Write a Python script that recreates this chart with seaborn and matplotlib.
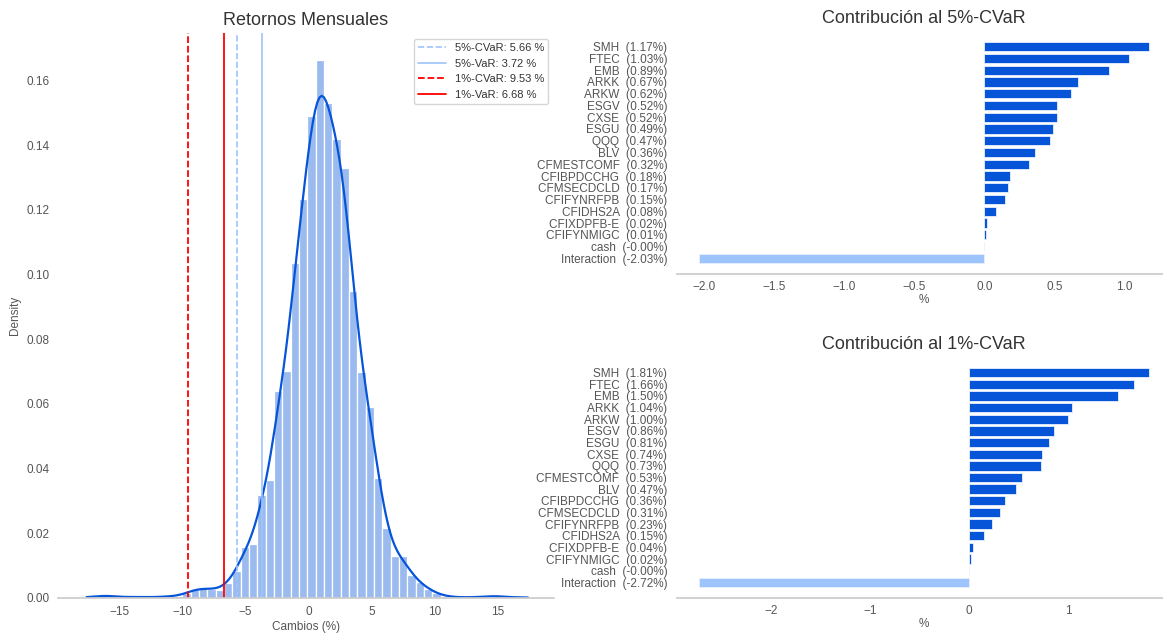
import numpy as np
import pandas as pd
import matplotlib
matplotlib.use("Agg")
import matplotlib.pyplot as plt
import seaborn as sns

# histogram of monthly returns (density per bin)
bin_start = -17.92
bin_width = 0.66
hist_density = [0.0004, 0.0003, 0.0009, 0.0006, 0.0003, 0.0003, 0.0003, 0.0003, 0.0002,
                0.0004, 0.0005, 0.0006, 0.0015, 0.0028, 0.0030, 0.0028, 0.0026, 0.0045,
                0.0082, 0.0158, 0.0168, 0.0318, 0.0365, 0.0640, 0.0702, 0.1036, 0.1234,
                0.1490, 0.1664, 0.1530, 0.1420, 0.1330, 0.0950, 0.0700, 0.0590, 0.0372,
                0.0215, 0.0130, 0.0130, 0.0071, 0.0048, 0.0029, 0.0014, 0.0006, 0.0003,
                0.0002, 0.0002, 0.0003, 0.0004, 0.0008, 0.0004, 0.0002, 0.0002, 0.0002]

# risk levels (%)
cvar5 = 5.66
var5 = 3.72
cvar1 = 9.53
var1 = 6.68

# contributions to 5%-CVaR
names5 = ["SMH", "FTEC", "EMB", "ARKK", "ARKW", "ESGV", "CXSE", "ESGU", "QQQ", "BLV",
          "CFMESTCOMF", "CFIBPDCCHG", "CFMSECDCLD", "CFIFYNRFPB", "CFIDHS2A",
          "CFIXDPFB-E", "CFIFYNMIGC", "cash", "Interaction"]
contrib5 = [1.17, 1.03, 0.89, 0.67, 0.62, 0.52, 0.52, 0.49, 0.47, 0.36,
            0.32, 0.18, 0.17, 0.15, 0.08, 0.02, 0.01, -0.0, -2.03]

# contributions to 1%-CVaR
names1 = ["SMH", "FTEC", "EMB", "ARKK", "ARKW", "ESGV", "ESGU", "CXSE", "QQQ",
          "CFMESTCOMF", "BLV", "CFIBPDCCHG", "CFMSECDCLD", "CFIFYNRFPB", "CFIDHS2A",
          "CFIXDPFB-E", "CFIFYNMIGC", "cash", "Interaction"]
contrib1 = [1.81, 1.66, 1.50, 1.04, 1.00, 0.86, 0.81, 0.74, 0.73,
            0.53, 0.47, 0.36, 0.31, 0.23, 0.15, 0.04, 0.02, -0.0, -2.72]

blue = "#0655d8"
light = "#9ec4fd"

sns.set_theme(style="white")
plt.rcParams["font.family"] = ["Liberation Sans", "DejaVu Sans"]
plt.rcParams["text.color"] = "#333333"
plt.rcParams["axes.labelcolor"] = "#555555"
plt.rcParams["xtick.color"] = "#555555"
plt.rcParams["ytick.color"] = "#555555"

W, H = 1163, 634
fig = plt.figure(figsize=(W / 100, H / 100), dpi=100)

def box(x0, y0, x1, y1):
    return [x0 / W, 1 - y1 / H, (x1 - x0) / W, (y1 - y0) / H]

# ---- left: histogram + kde ----
ax = fig.add_axes(box(58, 33, 554, 598))
edges = bin_start + bin_width * np.arange(len(hist_density) + 1)
hist_df = pd.DataFrame({"ret": edges[:-1] + bin_width / 2, "dens": hist_density})
sns.histplot(data=hist_df, x="ret", weights="dens", bins=list(edges), stat="count", kde=True,
             kde_kws={"bw_adjust": 0.36}, color=blue, alpha=0.4, edgecolor="white",
             linewidth=0.9, line_kws={"linewidth": 1.6}, ax=ax)
ax.axvline(-cvar5, color=light, ls="--", lw=1.2, label=f"5%-CVaR: {cvar5:.2f} %")
ax.axvline(-var5, color=light, ls="-", lw=1.2, label=f"5%-VaR: {var5:.2f} %")
ax.axvline(-cvar1, color="red", ls="--", lw=1.3, label=f"1%-CVaR: {cvar1:.2f} %")
ax.axvline(-var1, color="red", ls="-", lw=1.3, label=f"1%-VaR: {var1:.2f} %")
ax.set_xlim(-19.85, 19.45)
ax.set_yticks(np.arange(0, 0.17, 0.02))
ax.yaxis.set_major_formatter(matplotlib.ticker.FormatStrFormatter("%.2f"))
ax.set_title("Retornos Mensuales", fontsize=13)
ax.set_xlabel("Cambios (%)", fontsize=8.5, labelpad=2)
ax.set_ylabel("Density", fontsize=8.5)
ax.tick_params(labelsize=8.5, length=0, pad=6)
ax.legend(loc="upper right", fontsize=8, frameon=True, handlelength=2.5)
sns.despine(ax=ax, left=True)
ax.spines["bottom"].set_color("#cccccc")


def contrib_plot(ax, names, vals, title):
    labels = [f"{n}  ({v:.2f}%)" for n, v in zip(names, vals)]
    cols = [light if v < 0 else blue for v in vals]
    sns.barplot(x=vals, y=labels, hue=labels, palette=cols, legend=False, saturation=1,
                width=0.8, edgecolor="#e8f0ff", linewidth=0.6, ax=ax)
    n = len(vals)
    ax.set_ylim(n - 1 + 1.34, -1.34)
    ax.set_title(title, fontsize=13)
    ax.set_xlabel("%", fontsize=8.5, labelpad=1)
    ax.set_ylabel("")
    ax.tick_params(labelsize=8.5, length=0, pad=7)
    ax.tick_params(axis="x", pad=5)
    sns.despine(ax=ax, left=True)
    ax.spines["bottom"].set_color("#cccccc")


ax2 = fig.add_axes(box(677, 31, 1171, 274))
contrib_plot(ax2, names5, contrib5, "Contribución al 5%-CVaR")
ax2.set_xticks([-2.0, -1.5, -1.0, -0.5, 0.0, 0.5, 1.0])

ax3 = fig.add_axes(box(677, 357, 1171, 598))
contrib_plot(ax3, names1, contrib1, "Contribución al 1%-CVaR")
ax3.set_xticks([-2, -1, 0, 1])

fig.savefig("out.png", dpi=100)
